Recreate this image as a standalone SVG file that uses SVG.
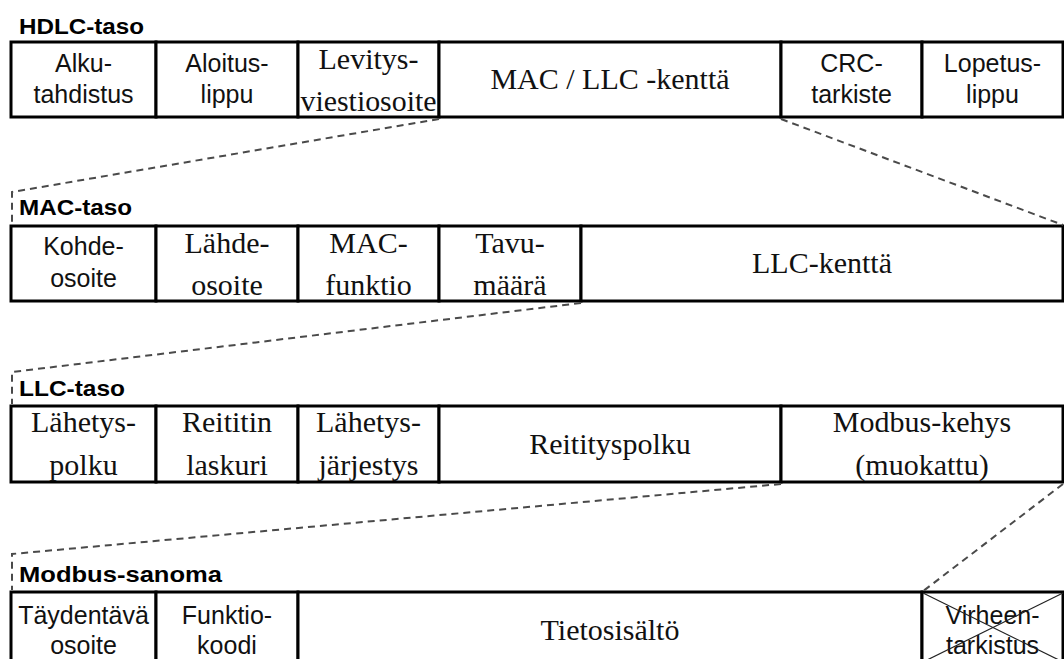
<svg xmlns="http://www.w3.org/2000/svg" width="1064" height="659" viewBox="0 0 1064 659">
  <style>
    .cell { fill: #ffffff; stroke: #000000; stroke-width: 3; }
    .title { font-family: "Liberation Sans", Arial, sans-serif; font-weight: bold; font-size: 22px; fill: #000; }
    .sans { font-family: "Liberation Sans", Arial, sans-serif; font-size: 25px; fill: #111; text-anchor: middle; }
    .serif { font-family: "Liberation Serif", "Times New Roman", serif; font-size: 30px; fill: #111; text-anchor: middle; }
    .link { fill: none; stroke: #4a4a4a; stroke-width: 2; stroke-dasharray: 7 5; }
    .cross { stroke: #222; stroke-width: 1.2; }
  </style>
  <rect x="0" y="0" width="1064" height="659" fill="#ffffff"/>

  <!-- HDLC frame -->
  <g id="hdlc">
    <text class="title" x="19" y="34" textLength="125" lengthAdjust="spacingAndGlyphs">HDLC-taso</text>
    <g id="hdlc-alku">
      <rect class="cell" x="11" y="42" width="145" height="75"/>
      <text class="sans" x="83.5" y="72">Alku-</text>
      <text class="sans" x="83.5" y="103">tahdistus</text>
    </g>
    <g id="hdlc-aloitus">
      <rect class="cell" x="156" y="42" width="142" height="75"/>
      <text class="sans" x="227" y="72">Aloitus-</text>
      <text class="sans" x="227" y="103">lippu</text>
    </g>
    <g id="hdlc-levitys">
      <rect class="cell" x="298" y="42" width="141" height="75"/>
      <text class="serif" x="368.5" y="69">Levitys-</text>
      <text class="serif" x="368.5" y="111" textLength="136" lengthAdjust="spacingAndGlyphs">viestiosoite</text>
    </g>
    <g id="hdlc-macllc">
      <rect class="cell" x="439" y="42" width="342" height="75"/>
      <text class="serif" x="610" y="89">MAC / LLC -kenttä</text>
    </g>
    <g id="hdlc-crc">
      <rect class="cell" x="781" y="42" width="141" height="75"/>
      <text class="sans" x="851.5" y="72">CRC-</text>
      <text class="sans" x="851.5" y="103">tarkiste</text>
    </g>
    <g id="hdlc-lopetus">
      <rect class="cell" x="922" y="42" width="141" height="75"/>
      <text class="sans" x="992.5" y="72">Lopetus-</text>
      <text class="sans" x="992.5" y="103">lippu</text>
    </g>
  </g>

  <!-- MAC layer -->
  <g id="mac">
    <text class="title" x="19" y="215" textLength="113" lengthAdjust="spacingAndGlyphs">MAC-taso</text>
    <g id="mac-kohde">
      <rect class="cell" x="11" y="226" width="145" height="75"/>
      <text class="sans" x="83.5" y="255">Kohde-</text>
      <text class="sans" x="83.5" y="287">osoite</text>
    </g>
    <g id="mac-lahde">
      <rect class="cell" x="156" y="226" width="142" height="75"/>
      <text class="serif" x="227" y="253">Lähde-</text>
      <text class="serif" x="227" y="295">osoite</text>
    </g>
    <g id="mac-funktio">
      <rect class="cell" x="298" y="226" width="141" height="75"/>
      <text class="serif" x="368.5" y="253">MAC-</text>
      <text class="serif" x="368.5" y="295">funktio</text>
    </g>
    <g id="mac-tavu">
      <rect class="cell" x="439" y="226" width="142" height="75"/>
      <text class="serif" x="510" y="253">Tavu-</text>
      <text class="serif" x="510" y="295">määrä</text>
    </g>
    <g id="mac-llc">
      <rect class="cell" x="581" y="226" width="482" height="75"/>
      <text class="serif" x="822" y="273">LLC-kenttä</text>
    </g>
  </g>

  <!-- LLC layer -->
  <g id="llc">
    <text class="title" x="19" y="396" textLength="106" lengthAdjust="spacingAndGlyphs">LLC-taso</text>
    <g id="llc-lahetyspolku">
      <rect class="cell" x="11" y="406" width="145" height="76"/>
      <text class="serif" x="83.5" y="432">Lähetys-</text>
      <text class="serif" x="83.5" y="475">polku</text>
    </g>
    <g id="llc-laskuri">
      <rect class="cell" x="156" y="406" width="142" height="76"/>
      <text class="serif" x="227" y="432">Reititin</text>
      <text class="serif" x="227" y="475">laskuri</text>
    </g>
    <g id="llc-jarjestys">
      <rect class="cell" x="298" y="406" width="141" height="76"/>
      <text class="serif" x="368.5" y="432">Lähetys-</text>
      <text class="serif" x="368.5" y="475">järjestys</text>
    </g>
    <g id="llc-reitityspolku">
      <rect class="cell" x="439" y="406" width="342" height="76"/>
      <text class="serif" x="610" y="454">Reitityspolku</text>
    </g>
    <g id="llc-modbus">
      <rect class="cell" x="781" y="406" width="282" height="76"/>
      <text class="serif" x="922" y="432">Modbus-kehys</text>
      <text class="serif" x="922" y="475">(muokattu)</text>
    </g>
  </g>

  <!-- Modbus message -->
  <g id="modbus">
    <text class="title" x="19" y="582" textLength="203" lengthAdjust="spacingAndGlyphs">Modbus-sanoma</text>
    <g id="modbus-osoite">
      <rect class="cell" x="11" y="592" width="145" height="75"/>
      <text class="sans" x="83.5" y="624">Täydentävä</text>
      <text class="sans" x="83.5" y="654">osoite</text>
    </g>
    <g id="modbus-funktio">
      <rect class="cell" x="156" y="592" width="142" height="75"/>
      <text class="sans" x="227" y="624">Funktio-</text>
      <text class="sans" x="227" y="654">koodi</text>
    </g>
    <g id="modbus-tieto">
      <rect class="cell" x="298" y="592" width="624" height="75"/>
      <text class="serif" x="610" y="640">Tietosisältö</text>
    </g>
    <g id="modbus-virhe">
      <rect class="cell" x="922" y="592" width="141" height="75"/>
      <text class="sans" x="992.5" y="624">Virheen-</text>
      <text class="sans" x="992.5" y="654">tarkistus</text>
      <line class="cross" x1="923" y1="593" x2="1063" y2="662"/>
      <line class="cross" x1="1063" y1="593" x2="923" y2="662"/>
    </g>
  </g>

  <!-- zoom-out guides between layers -->
  <g id="connectors">
    <polyline class="link" points="439,119 12,192 12,224"/>
    <polyline class="link" points="781,119 1063,225"/>
    <polyline class="link" points="581,303 12,372 12,404"/>
    <polyline class="link" points="781,484 12,554 12,590"/>
    <polyline class="link" points="1063,484 922,592"/>
  </g>
</svg>
